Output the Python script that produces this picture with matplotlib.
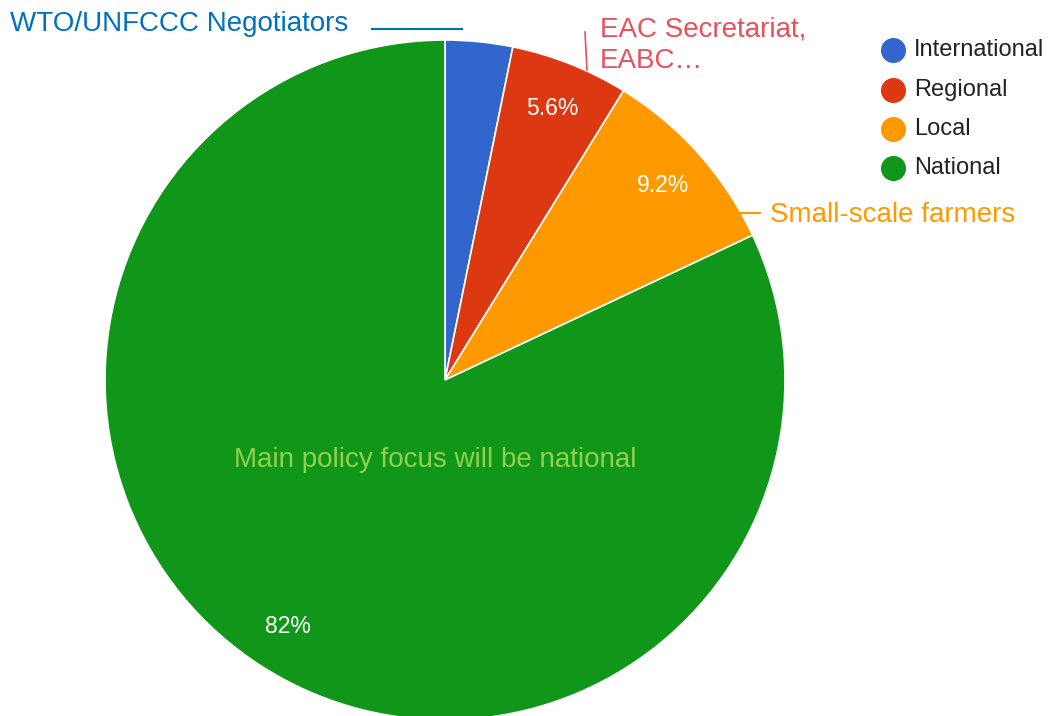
import matplotlib.pyplot as plt
import numpy as np
from matplotlib.lines import Line2D

plt.rcParams['font.family'] = ['Liberation Sans', 'DejaVu Sans']

labels = ['International', 'Regional', 'Local', 'National']
shares = [3.2, 5.6, 9.2, 82.0]
pct_text = ['', '5.6%', '9.2%', '82%']
colors = ['#3366cc', '#dc3912', '#ff9900', '#109618']

W, H = 1053, 716
fig = plt.figure(figsize=(W / 100, H / 100), dpi=100)
ax = fig.add_axes([0, 0, 1, 1])

# pie centre / radius in pixel coords (y up)
cx, cy, r = 445, H - 380, 340
wedges, _ = ax.pie(shares, colors=colors, startangle=90, counterclock=False,
                   center=(cx, cy), radius=r,
                   wedgeprops=dict(edgecolor='white', linewidth=1.2))

# percentage labels inside slices
start = 90.0
for val, txt in zip(shares, pct_text):
    mid = start - val * 3.6 / 2
    start -= val * 3.6
    if not txt:
        continue
    a = np.deg2rad(mid)
    ax.text(cx + 0.86 * r * np.cos(a), cy + 0.86 * r * np.sin(a), txt,
            ha='center', va='center', color='white', fontsize=16.5)

ax.set_xlim(0, W)
ax.set_ylim(0, H)
ax.set_aspect('equal')
ax.axis('off')

# callouts
ax.text(10, H - 24, 'WTO/UNFCCC Negotiators', color='#0070c0', fontsize=20,
        ha='left', va='center')
ax.add_line(Line2D([372, 462], [H - 29, H - 29], color='#0070c0', lw=1.5))

ax.text(600, H - 45, 'EAC Secretariat,\nEABC…', color='#e8505b', fontsize=20,
        ha='left', va='center', linespacing=1.25)
ax.add_line(Line2D([585, 587], [H - 32, H - 70], color='#e8505b', lw=1.2))

ax.text(770, H - 215, 'Small-scale farmers', color='#ff9900', fontsize=20,
        ha='left', va='center')
ax.add_line(Line2D([740, 760], [H - 213, H - 213], color='#ff9900', lw=1.5))

ax.text(435, H - 460, 'Main policy focus will be national', color='#92d050',
        fontsize=20, ha='center', va='center')

# legend
leg_y = [50, 90, 129, 168]
for lab, col, y in zip(labels, colors, leg_y):
    ax.scatter([893], [H - y], s=290, color=col, zorder=3)
    ax.text(914, H - y, lab, color='#222222', fontsize=17, ha='left', va='center')

fig.savefig('out.png', dpi=100)
